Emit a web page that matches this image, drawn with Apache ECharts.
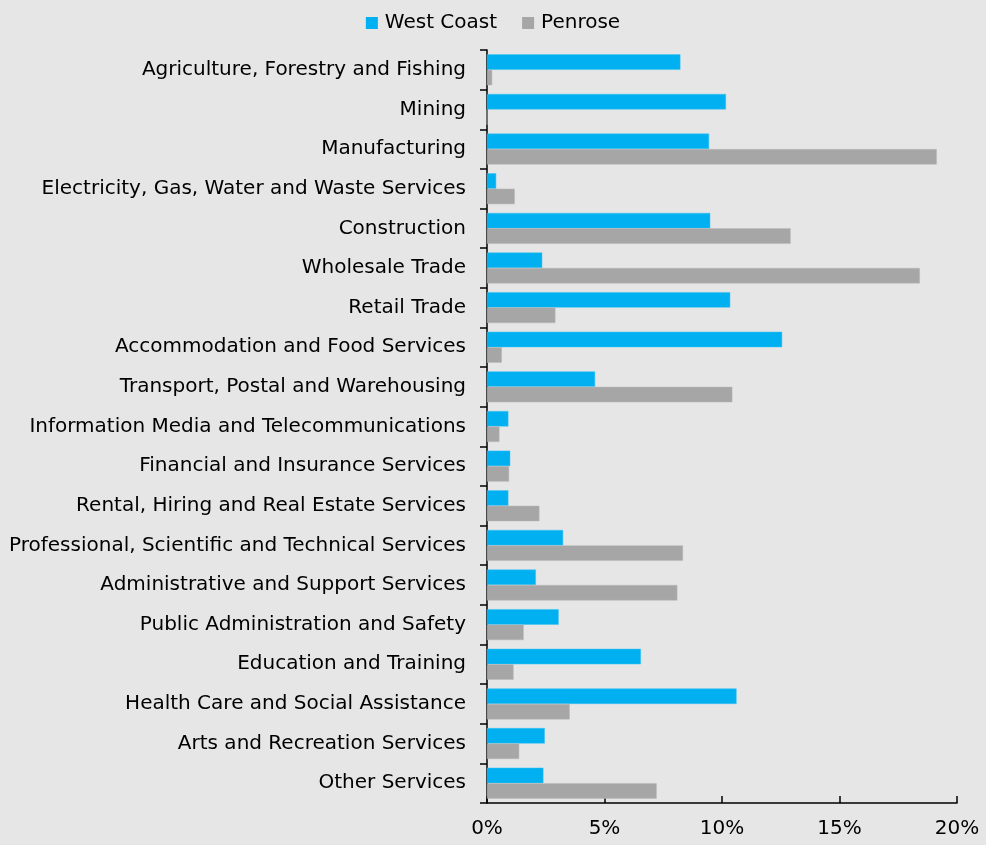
<!DOCTYPE html>
<html>
<head>
<meta charset="utf-8">
<script src="https://cdn.jsdelivr.net/npm/echarts@6/dist/echarts.min.js"></script>
<style>
html,body{margin:0;padding:0;background:#e6e6e6;}
#chart{width:986px;height:845px;}
</style>
</head>
<body>
<div id="chart"></div>
<script>
const categories = [
  "Agriculture, Forestry and Fishing",
  "Mining",
  "Manufacturing",
  "Electricity, Gas, Water and Waste Services",
  "Construction",
  "Wholesale Trade",
  "Retail Trade",
  "Accommodation and Food Services",
  "Transport, Postal and Warehousing",
  "Information Media and Telecommunications",
  "Financial and Insurance Services",
  "Rental, Hiring and Real Estate Services",
  "Professional, Scientific and Technical Services",
  "Administrative and Support Services",
  "Public Administration and Safety",
  "Education and Training",
  "Health Care and Social Assistance",
  "Arts and Recreation Services",
  "Other Services"
];
const westCoast = [8.23, 10.17, 9.45, 0.39, 9.50, 2.35, 10.35, 12.56, 4.60, 0.91, 0.99, 0.91, 3.24, 2.08, 3.05, 6.55, 10.62, 2.46, 2.40];
const penrose   = [0.22, 0, 19.14, 1.18, 12.92, 18.42, 2.91, 0.63, 10.44, 0.53, 0.94, 2.23, 8.34, 8.10, 1.56, 1.13, 3.52, 1.37, 7.22];
const seriesNames = ["West Coast", "Penrose"];

const FONT = "DejaVu Sans";
const chart = echarts.init(document.getElementById('chart'));
chart.setOption({
  backgroundColor: '#e6e6e6',
  animation: false,
  textStyle: {fontFamily: FONT, color: '#000'},
  legend: {
    top: 8, left: 'center',
    itemWidth: 12, itemHeight: 12, itemGap: 25,
    icon: 'rect',
    itemStyle: {borderWidth: 0},
    textStyle: {fontFamily: FONT, fontSize: 20, color: '#000', padding: [0, 0, 0, 2]},
    data: seriesNames
  },
  grid: {left: 487, right: 29, top: 50, bottom: 42, containLabel: false},
  xAxis: {
    type: 'value', min: 0, max: 20, interval: 5,
    axisLine: {show: true, lineStyle: {color: '#000', width: 1.5}},
    axisTick: {show: true, inside: true, length: 7, lineStyle: {color: '#000', width: 1.5}},
    splitLine: {show: false},
    axisLabel: {formatter: v => v + '%', fontFamily: FONT, fontSize: 20, color: '#000', margin: 16}
  },
  yAxis: {
    type: 'category', inverse: true, data: categories,
    axisLine: {show: true, lineStyle: {color: '#000', width: 1.5}},
    axisTick: {show: true, inside: false, length: 7, lineStyle: {color: '#000', width: 1.5}},
    axisLabel: {fontFamily: FONT, fontSize: 20, color: '#000', margin: 21}
  },
  series: [
    {name: seriesNames[0], type: 'bar', data: westCoast, barGap: '0%', barCategoryGap: '22%',
     itemStyle: {color: '#00b0f0', borderColor: '#3cc3f3', borderWidth: 0.5}},
    {name: seriesNames[1], type: 'bar', data: penrose, barGap: '0%', barCategoryGap: '22%',
     itemStyle: {color: '#a6a6a6', borderColor: '#b8b8b8', borderWidth: 0.5}}
  ]
});
</script>
</body>
</html>
